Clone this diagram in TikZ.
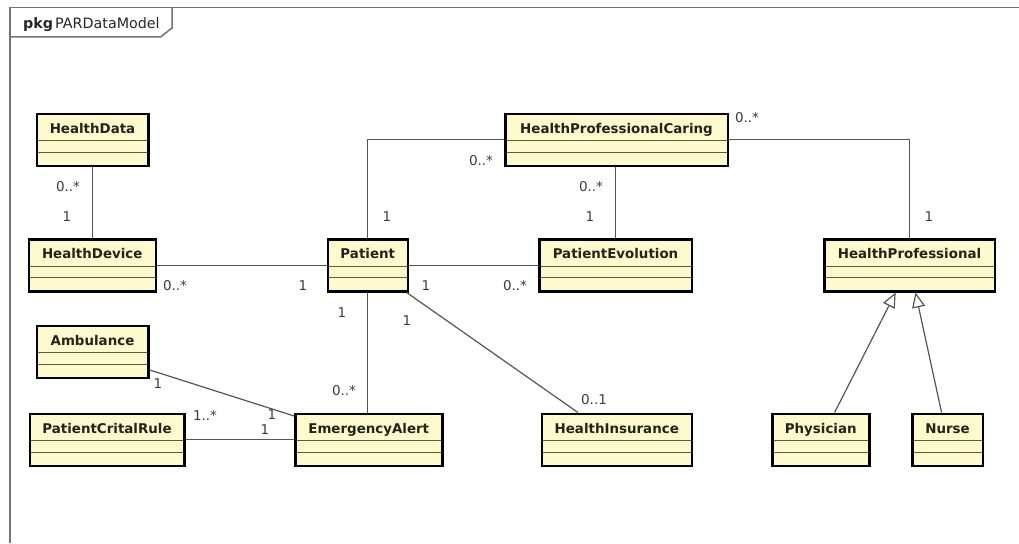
\documentclass[tikz,border=0pt]{standalone}
\usepackage{fontspec}
\setmainfont{DejaVu Sans}
\newfontfamily\umlfont{DejaVu Sans}
\usetikzlibrary{arrows.meta}

\definecolor{classfill}{RGB}{253,251,205}
\definecolor{classtext}{RGB}{35,35,25}
\definecolor{divline}{RGB}{95,90,55}
\definecolor{assoccol}{RGB}{85,85,85}
\definecolor{framecol}{RGB}{115,115,115}
\definecolor{multcol}{RGB}{60,60,60}

\tikzset{
  umlclass/.style={draw=black, line width=2.5pt, fill=classfill, inner sep=0pt,
    anchor=north west, minimum height=52pt, text height=19.5pt, text depth=32.5pt,
    font=\umlfont\fontsize{13.4}{16}\selectfont\bfseries, text=classtext,
    path picture={
      \draw[divline, line width=1.4pt]
        ([yshift=-27pt]path picture bounding box.north west) --
        ([yshift=-27pt]path picture bounding box.north east);
      \draw[divline, line width=1.4pt]
        ([yshift=-38.5pt]path picture bounding box.north west) --
        ([yshift=-38.5pt]path picture bounding box.north east);
    }},
  assocline/.style={draw=assoccol, line width=1.2pt},
  genline/.style={draw=assoccol, line width=1.2pt,
    -{Triangle[open, length=15pt, width=13pt, fill=white]}},
  mult/.style={inner sep=0pt, text height=9.5pt, text depth=0pt, text=multcol,
    font=\umlfont\fontsize{13.5}{16}\selectfont},
  frameline/.style={draw=framecol, line width=1.5pt},
}

\begin{document}
\begin{tikzpicture}[x=1pt, y=-1pt]
\useasboundingbox (0,0) rectangle (1019,543);

% package frame and its name tab
\draw[frameline] (10,543) -- (10,7.5) -- (1019,7.5);
\draw[frameline] (10,37) -- (160.5,37) -- (172,28) -- (172,7.5);
\node[anchor=base west, inner sep=0pt, text=black!85,
  font=\umlfont\fontsize{14.3}{17}\selectfont] (pkgname) at (23,28.3)
  {\textbf{pkg}\hspace{2pt}PARDataModel};

% classes
\node[umlclass, minimum width=111.5pt] (hdata)   at (35.5,112.5) {HealthData};
\node[umlclass, minimum width=222.5pt] (hpc)     at (504,112.5)  {HealthProfessionalCaring};
\node[umlclass, minimum width=127pt]   (hdev)    at (27.5,238)   {HealthDevice};
\node[umlclass, minimum width=80pt]    (patient) at (326.5,238)  {Patient};
\node[umlclass, minimum width=152.5pt] (pe)      at (538,238)    {PatientEvolution};
\node[umlclass, minimum width=170.5pt] (hp)      at (823,238)    {HealthProfessional};
\node[umlclass, minimum width=111.5pt] (amb)     at (35.5,324.5) {Ambulance};
\node[umlclass, minimum width=154.5pt] (pcr)     at (28.5,412.5) {PatientCritalRule};
\node[umlclass, minimum width=147pt]   (ea)      at (294,412.5)  {EmergencyAlert};
\node[umlclass, minimum width=150pt]   (hi)      at (540.5,412.5){HealthInsurance};
\node[umlclass, minimum width=97pt]    (phys)    at (771,412.5)  {Physician};
\node[umlclass, minimum width=70.5pt]  (nurse)   at (911,412.5)  {Nurse};

% associations
\draw[assocline] (hdata.south) -- (hdata.south |- hdev.north);
\draw[assocline] (hdev.east) -- (patient.west);
\draw[assocline] (patient.east) -- (pe.west);
\draw[assocline] (hpc.west) -| (patient.north);
\draw[assocline] (hpc.east) -| (hp.north);
\draw[assocline] (pe.north |- hpc.south) -- (pe.north);
\draw[assocline] (patient.south) -- (patient.south |- ea.north);
\draw[assocline] (patient) -- (hi);
\draw[assocline] (amb) -- (ea);
\draw[assocline] (pcr) -- (ea);

% generalizations
\draw[genline] (phys) -- (hp);
\draw[genline] (nurse) -- (hp);

% multiplicities
\node[mult] (m1)  at (747,118) {0..*};
\node[mult] (m2)  at (481,161) {0..*};
\node[mult] (m3)  at (591,187) {0..*};
\node[mult] (m4)  at (590,217) {1};
\node[mult] (m5)  at (387,217) {1};
\node[mult] (m6)  at (929,217) {1};
\node[mult] (m7)  at (68,187)  {0..*};
\node[mult] (m8)  at (67,217)  {1};
\node[mult] (m9)  at (175,286) {0..*};
\node[mult] (m10) at (303,286) {1};
\node[mult] (m11) at (426,286) {1};
\node[mult] (m12) at (515,286) {0..*};
\node[mult] (m13) at (342,313) {1};
\node[mult] (m14) at (407,321) {1};
\node[mult] (m15) at (344,391) {0..*};
\node[mult] (m16) at (594,400) {0..1};
\node[mult] (m17) at (158,384) {1};
\node[mult] (m18) at (205,416) {1..*};
\node[mult] (m19) at (272,415) {1};
\node[mult] (m20) at (265,430) {1};
\end{tikzpicture}
\end{document}
